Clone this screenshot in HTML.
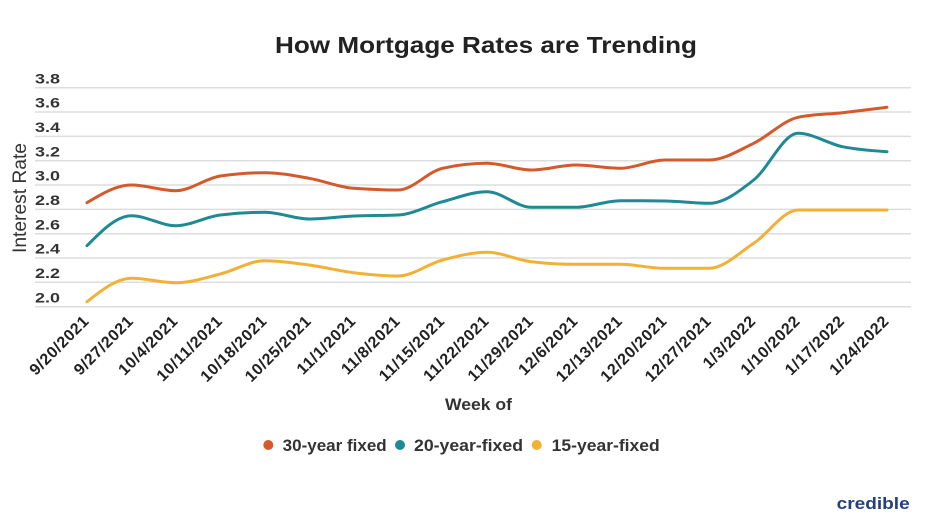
<!DOCTYPE html>
<html>
<head>
<meta charset="utf-8">
<style>
  html,body{margin:0;padding:0;background:#fff;}
  body{width:932px;height:524px;overflow:hidden;}
  svg{display:block;}
  text{font-family:"Liberation Sans", "DejaVu Sans", sans-serif;}
</style>
</head>
<body>
<svg id="c" width="932" height="524" viewBox="0 0 932 524" xmlns="http://www.w3.org/2000/svg">
  <rect x="0" y="0" width="932" height="524" fill="#ffffff"/>
  <!-- Title -->
  <text x="486" y="53" text-anchor="middle" font-size="23" font-weight="bold" fill="#222" textLength="422" lengthAdjust="spacingAndGlyphs">How Mortgage Rates are Trending</text>

  <!-- Gridlines -->
  <g stroke="#dddddd" stroke-width="1.5">
    <line x1="35" x2="911" y1="87.7" y2="87.7"/>
    <line x1="35" x2="911" y1="112.0" y2="112.0"/>
    <line x1="35" x2="911" y1="136.4" y2="136.4"/>
    <line x1="35" x2="911" y1="160.7" y2="160.7"/>
    <line x1="35" x2="911" y1="185.0" y2="185.0"/>
    <line x1="35" x2="911" y1="209.4" y2="209.4"/>
    <line x1="35" x2="911" y1="233.7" y2="233.7"/>
    <line x1="35" x2="911" y1="258.0" y2="258.0"/>
    <line x1="35" x2="911" y1="282.3" y2="282.3"/>
    <line x1="35" x2="911" y1="306.7" y2="306.7"/>
  </g>

  <!-- Y tick labels -->
  <g font-size="14" font-weight="bold" fill="#333">
    <text x="35" y="83.3" textLength="25" lengthAdjust="spacingAndGlyphs">3.8</text>
    <text x="35" y="107.6" textLength="25" lengthAdjust="spacingAndGlyphs">3.6</text>
    <text x="35" y="132.0" textLength="25" lengthAdjust="spacingAndGlyphs">3.4</text>
    <text x="35" y="156.3" textLength="25" lengthAdjust="spacingAndGlyphs">3.2</text>
    <text x="35" y="180.6" textLength="25" lengthAdjust="spacingAndGlyphs">3.0</text>
    <text x="35" y="205.0" textLength="25" lengthAdjust="spacingAndGlyphs">2.8</text>
    <text x="35" y="229.3" textLength="25" lengthAdjust="spacingAndGlyphs">2.6</text>
    <text x="35" y="253.6" textLength="25" lengthAdjust="spacingAndGlyphs">2.4</text>
    <text x="35" y="277.9" textLength="25" lengthAdjust="spacingAndGlyphs">2.2</text>
    <text x="35" y="302.3" textLength="25" lengthAdjust="spacingAndGlyphs">2.0</text>
  </g>

  <!-- Y axis title -->
  <text transform="translate(26,198) rotate(-90)" x="0" y="0" text-anchor="middle" font-size="19" fill="#333" textLength="110" lengthAdjust="spacingAndGlyphs">Interest Rate</text>

  <!-- Series -->
  <path id="s30" fill="none" stroke="#d4592b" stroke-width="3" stroke-linejoin="round" stroke-linecap="round"/>
  <path id="s20" fill="none" stroke="#1f8a94" stroke-width="3" stroke-linejoin="round" stroke-linecap="round"/>
  <path id="s15" fill="none" stroke="#f2b134" stroke-width="3" stroke-linejoin="round" stroke-linecap="round"/>

  <!-- X labels -->
  <g id="xl" font-size="16" font-weight="bold" fill="#222" letter-spacing="0.6"></g>

  <!-- X axis title -->
  <text x="478.5" y="410" text-anchor="middle" font-size="17" font-weight="bold" fill="#333" textLength="67" lengthAdjust="spacingAndGlyphs">Week of</text>

  <!-- Legend -->
  <circle cx="268.3" cy="445" r="5" fill="#d4592b"/>
  <text x="282.7" y="451" font-size="17" font-weight="bold" fill="#333" textLength="104" lengthAdjust="spacingAndGlyphs">30-year fixed</text>
  <circle cx="400" cy="445" r="5" fill="#1f8a94"/>
  <text x="414" y="451" font-size="17" font-weight="bold" fill="#333" textLength="109" lengthAdjust="spacingAndGlyphs">20-year-fixed</text>
  <circle cx="536.7" cy="445" r="5" fill="#f2b134"/>
  <text x="551.7" y="451" font-size="17" font-weight="bold" fill="#333" textLength="108" lengthAdjust="spacingAndGlyphs">15-year-fixed</text>

  <!-- Logo -->
  <text x="836.7" y="509" font-size="17" font-weight="bold" fill="#25407e" textLength="73" lengthAdjust="spacingAndGlyphs">credible</text>
</svg>
<script>
(function(){
  var xs=[];for(var i=0;i<19;i++)xs.push(87+44.444*i);
  var d30=[202.7,185,190.7,176,172.7,178.3,188.3,190,168.3,163.3,170,165,168.3,160,160,143.3,117.3,112.7,107.3];
  var d20=[245.7,215.7,225.7,215,212.3,219,216,215,201.7,191.7,207.3,207.3,200.7,201,203.3,180,133.3,146.7,151.7];
  var d15=[301.7,278.3,282.7,274,260.7,265,272.7,276,260,252.3,261.7,264.3,264.3,268.3,268.3,243.3,210,210,210];
  function sign(v){return v<0?-1:1;}
  function mono(ys){
    var n=ys.length,h=xs[1]-xs[0],s=[],t=[];
    for(var i=0;i<n-1;i++)s.push((ys[i+1]-ys[i])/h);
    for(var i=1;i<n-1;i++){
      var s0=s[i-1],s1=s[i],p=(s0+s1)/2;
      t[i]=(sign(s0)+sign(s1))*Math.min(Math.abs(s0),Math.abs(s1),0.5*Math.abs(p))||0;
    }
    t[0]=(3*s[0]-t[1])/2; t[n-1]=(3*s[n-2]-t[n-2])/2;
    var d="M"+xs[0].toFixed(1)+","+ys[0].toFixed(1);
    for(var i=0;i<n-1;i++){
      var dx=h/3;
      d+=" C"+(xs[i]+dx).toFixed(1)+","+(ys[i]+dx*t[i]).toFixed(1)+" "+(xs[i+1]-dx).toFixed(1)+","+(ys[i+1]-dx*t[i+1]).toFixed(1)+" "+xs[i+1].toFixed(1)+","+ys[i+1].toFixed(1);
    }
    return d;
  }
  document.getElementById("s30").setAttribute("d",mono(d30));
  document.getElementById("s20").setAttribute("d",mono(d20));
  document.getElementById("s15").setAttribute("d",mono(d15));
  var labels=["9/20/2021","9/27/2021","10/4/2021","10/11/2021","10/18/2021","10/25/2021","11/1/2021","11/8/2021","11/15/2021","11/22/2021","11/29/2021","12/6/2021","12/13/2021","12/20/2021","12/27/2021","1/3/2022","1/10/2022","1/17/2022","1/24/2022"];
  var g=document.getElementById("xl"),ns="http://www.w3.org/2000/svg";
  for(var i=0;i<labels.length;i++){
    var t=document.createElementNS(ns,"text");
    t.setAttribute("transform","translate("+(xs[i]+3).toFixed(1)+",322) rotate(-45)");
    t.setAttribute("text-anchor","end");
    t.textContent=labels[i];
    g.appendChild(t);
  }
})();
</script>
</body>
</html>
